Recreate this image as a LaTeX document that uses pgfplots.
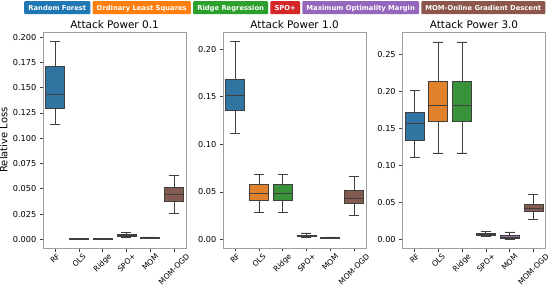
\documentclass[border=0pt]{standalone}
\usepackage{pgfplots}
\pgfplotsset{compat=1.18}
\usepgfplotslibrary{statistics}
\usepackage{graphicx}
\usepackage{fontspec}
\setmainfont{DejaVu Sans}
\definecolor{c1}{HTML}{3274A1}
\definecolor{c2}{HTML}{E1812C}
\definecolor{c3}{HTML}{3A923A}
\definecolor{c4}{HTML}{C03D3E}
\definecolor{c5}{HTML}{9372B2}
\definecolor{c6}{HTML}{845B53}
\definecolor{l1}{HTML}{1F77B4}
\definecolor{l2}{HTML}{FF7F0E}
\definecolor{l3}{HTML}{2CA02C}
\definecolor{l4}{HTML}{D62728}
\definecolor{l5}{HTML}{9467BD}
\definecolor{l6}{HTML}{8C564B}
\definecolor{edge}{HTML}{3F3F3F}
\pgfplotsset{
  bxs/.style={draw=edge, fill=#1, line width=0.8bp, solid, mark=none},
  panel/.style={
    scale only axis, height=216bp, width=142.6bp,
    xmin=-0.5, xmax=5.5, xtick={0,...,5},
    xticklabels={\rotatebox{45}{RF},\rotatebox{45}{OLS},\rotatebox{45}{Ridge},\rotatebox{45}{SPO+},\rotatebox{45}{MOM},\rotatebox{45}{MOM-OGD}},
    x tick label style={anchor=north, inner sep=1.5bp, font=\fontsize{7.6}{8}\selectfont},
    y tick label style={font=\fontsize{8.2}{9}\selectfont},
    tick align=outside, xtick pos=bottom, ytick pos=left,
    major tick length=3.5bp,
    axis line style={draw=gray!75, line width=0.8bp},
    tick style={draw=edge, line width=0.6bp},
    title style={font=\fontsize{10.5}{12}\selectfont, yshift=-6.5bp},
    /pgf/number format/assume math mode=true,
    scaled y ticks=false,
    boxplot/draw direction=y,
    boxplot/box extend=0.8, boxplot/whisker extend=0.42,
    anchor=south west,
  }
}
\begin{document}
\begin{tikzpicture}
\useasboundingbox (0,0) rectangle (556bp,294bp);
% legend
\begin{scope}[every node/.style={text=white, font=\fontsize{6.8}{7}\bfseries\selectfont, inner xsep=4.2bp, inner ysep=3.5bp, rounded corners=1bp, text depth=0.5bp, text height=5.5bp}]
\node[fill=l1, anchor=north west] (a) at (24bp,293bp) {Random Forest};
\node[fill=l2, anchor=west] (b) at ([xshift=1.8bp]a.east) {Ordinary Least Squares};
\node[fill=l3, anchor=west] (c) at ([xshift=1.8bp]b.east) {Ridge Regression};
\node[fill=l4, anchor=west] (d) at ([xshift=1.8bp]c.east) {SPO+};
\node[fill=l5, anchor=west] (e) at ([xshift=1.8bp]d.east) {Maximum Optimality Margin};
\node[fill=l6, anchor=west] (f) at ([xshift=1.8bp]e.east) {MOM-Online Gradient Descent};
\end{scope}
\begin{axis}[panel, at={(43.3bp,46bp)},
  title={Attack Power 0.1}, ymin=-0.0086, ymax=0.2052,
  ytick={0,0.025,...,0.2}, yticklabel style={/pgf/number format/fixed, /pgf/number format/fixed zerofill, /pgf/number format/precision=3},
  ylabel={Relative Loss}, ylabel style={font=\fontsize{10}{12}\selectfont, yshift=-1.5bp}]
\addplot[bxs=c1, boxplot prepared={draw position=0, lower whisker=0.1141, lower quartile=0.1293, median=0.1436, upper quartile=0.1713, upper whisker=0.1956}] coordinates {};
\addplot[bxs=c2, boxplot prepared={draw position=1, lower whisker=0.0002, lower quartile=0.0004, median=0.0005, upper quartile=0.0007, upper whisker=0.0009}] coordinates {};
\addplot[bxs=c3, boxplot prepared={draw position=2, lower whisker=0.0002, lower quartile=0.0004, median=0.0005, upper quartile=0.0007, upper whisker=0.0009}] coordinates {};
\addplot[bxs=c4, boxplot prepared={draw position=3, lower whisker=0.0015, lower quartile=0.0028, median=0.0040, upper quartile=0.0052, upper whisker=0.0065}] coordinates {};
\addplot[bxs=c5, boxplot prepared={draw position=4, lower whisker=0.0008, lower quartile=0.0011, median=0.0014, upper quartile=0.0018, upper whisker=0.0023}] coordinates {};
\addplot[bxs=c6, boxplot prepared={draw position=5, lower whisker=0.0257, lower quartile=0.0372, median=0.0446, upper quartile=0.0515, upper whisker=0.0634}] coordinates {};
\end{axis}
\begin{axis}[panel, at={(223.3bp,46bp)},
  title={Attack Power 1.0}, ymin=-0.009, ymax=0.218,
  ytick={0,0.05,...,0.2}, yticklabel style={/pgf/number format/fixed, /pgf/number format/fixed zerofill, /pgf/number format/precision=2}]
\addplot[bxs=c1, boxplot prepared={draw position=0, lower whisker=0.1116, lower quartile=0.1360, median=0.1514, upper quartile=0.1682, upper whisker=0.2077}] coordinates {};
\addplot[bxs=c2, boxplot prepared={draw position=1, lower whisker=0.0283, lower quartile=0.0406, median=0.0482, upper quartile=0.0577, upper whisker=0.0679}] coordinates {};
\addplot[bxs=c3, boxplot prepared={draw position=2, lower whisker=0.0283, lower quartile=0.0406, median=0.0482, upper quartile=0.0577, upper whisker=0.0679}] coordinates {};
\addplot[bxs=c4, boxplot prepared={draw position=3, lower whisker=0.0020, lower quartile=0.0028, median=0.0036, upper quartile=0.0046, upper whisker=0.0068}] coordinates {};
\addplot[bxs=c5, boxplot prepared={draw position=4, lower whisker=0.0008, lower quartile=0.0012, median=0.0015, upper quartile=0.0019, upper whisker=0.0026}] coordinates {};
\addplot[bxs=c6, boxplot prepared={draw position=5, lower whisker=0.0249, lower quartile=0.0382, median=0.0434, upper quartile=0.0511, upper whisker=0.0665}] coordinates {};
\end{axis}
\begin{axis}[panel, at={(402.7bp,46bp)},
  title={Attack Power 3.0}, ymin=-0.0116, ymax=0.28,
  ytick={0,0.05,...,0.25}, yticklabel style={/pgf/number format/fixed, /pgf/number format/fixed zerofill, /pgf/number format/precision=2}]
\addplot[bxs=c1, boxplot prepared={draw position=0, lower whisker=0.1104, lower quartile=0.1342, median=0.1567, upper quartile=0.1710, upper whisker=0.2012}] coordinates {};
\addplot[bxs=c2, boxplot prepared={draw position=1, lower whisker=0.1167, lower quartile=0.1598, median=0.1814, upper quartile=0.2133, upper whisker=0.2666}] coordinates {};
\addplot[bxs=c3, boxplot prepared={draw position=2, lower whisker=0.1167, lower quartile=0.1598, median=0.1814, upper quartile=0.2133, upper whisker=0.2666}] coordinates {};
\addplot[bxs=c4, boxplot prepared={draw position=3, lower whisker=0.0035, lower quartile=0.0055, median=0.0070, upper quartile=0.0085, upper whisker=0.0110}] coordinates {};
\addplot[bxs=c5, boxplot prepared={draw position=4, lower whisker=0.0002, lower quartile=0.0012, median=0.0025, upper quartile=0.0050, upper whisker=0.0100}] coordinates {};
\addplot[bxs=c6, boxplot prepared={draw position=5, lower whisker=0.0265, lower quartile=0.0377, median=0.0423, upper quartile=0.0477, upper whisker=0.0606}] coordinates {};
\end{axis}
\end{tikzpicture}
\end{document}
